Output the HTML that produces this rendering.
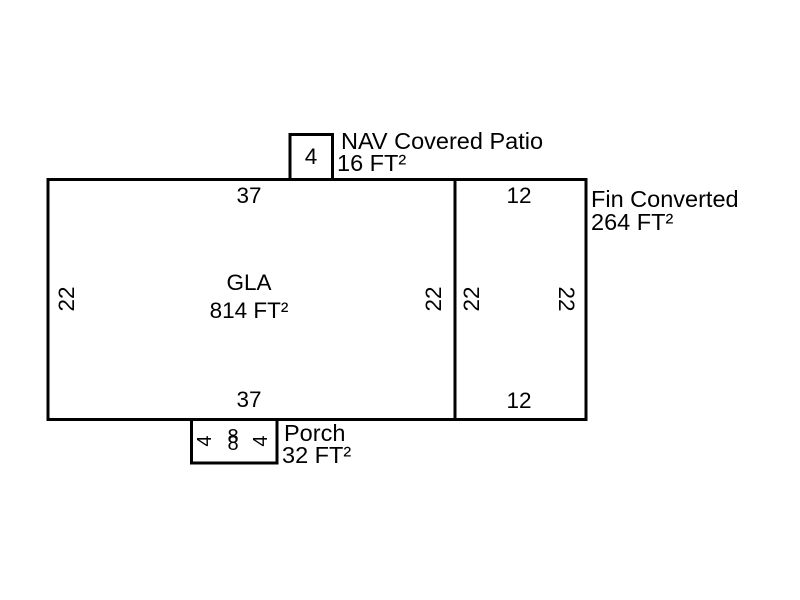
<!DOCTYPE html>
<html>
<head>
<meta charset="utf-8">
<style>
  html,body{margin:0;padding:0;background:#fff;}
  svg{display:block;}
  text{font-family:"Liberation Sans",Arial,sans-serif;fill:#000;}
</style>
</head>
<body>
<svg width="800" height="600" viewBox="0 0 800 600" xmlns="http://www.w3.org/2000/svg">
  <rect x="0" y="0" width="800" height="600" fill="#fff"/>
  <g fill="none" stroke="#000" stroke-width="3">
    <!-- main rectangle -->
    <rect x="48" y="179.5" width="538" height="240"/>
    <!-- divider -->
    <line x1="455" y1="179.5" x2="455" y2="419.5"/>
    <!-- patio box -->
    <polyline points="290,179.5 290,134.5 332.5,134.5 332.5,179.5"/>
    <!-- porch box -->
    <polyline points="191.5,419.5 191.5,463 277,463 277,419.5"/>
  </g>

  <!-- GLA dimension labels -->
  <g font-size="22.5" text-anchor="middle">
    <text x="249" y="203">37</text>
    <text x="249" y="407">37</text>
    <text x="519" y="203">12</text>
    <text x="519" y="408">12</text>
    <text x="249" y="290">GLA</text>
    <text x="249" y="318">814 FT²</text>
    <text x="311" y="164">4</text>
    <text transform="translate(66,299) rotate(-90)" dy="8">22</text>
    <text transform="translate(433,299) rotate(-90)" dy="8">22</text>
    <text transform="translate(471,299) rotate(-90)" dy="8">22</text>
    <text transform="translate(567,299) rotate(90)" dy="8">22</text>
  </g>

  <!-- porch labels -->
  <g font-size="20" text-anchor="middle">
    <text x="233" y="443">8</text>
    <text x="233" y="450">8</text>
    <text transform="translate(204,441) rotate(-90)" dy="7">4</text>
    <text transform="translate(260,441) rotate(-90)" dy="7">4</text>
  </g>

  <!-- area labels -->
  <g font-size="23.5">
    <text x="341" y="149">NAV Covered Patio</text>
    <text x="337" y="171">16 FT²</text>
    <text x="591" y="207">Fin Converted</text>
    <text x="591" y="230">264 FT²</text>
    <text x="284" y="441">Porch</text>
    <text x="282" y="463">32 FT²</text>
  </g>
</svg>
</body>
</html>
